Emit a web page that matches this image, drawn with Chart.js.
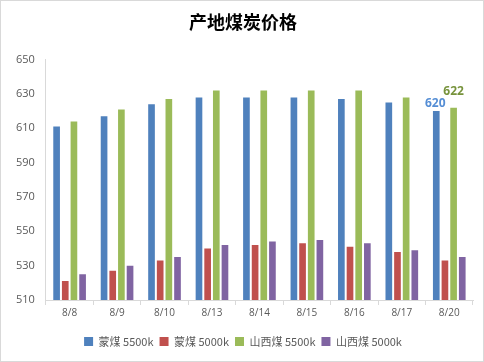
<!DOCTYPE html>
<html>
<head>
<meta charset="utf-8">
<script src="https://cdn.jsdelivr.net/npm/chart.js@4"></script>
<style>
    html, body { margin: 0; padding: 0; background: #fff; }
    #wrap { width: 482px; height: 360px; border: 1px solid #d9d9d9; }
</style>
</head>
<body>
<div id="wrap"><canvas id="priceChart" width="482" height="360"></canvas></div>
<script>
var dates = ['8/8', '8/9', '8/10', '8/13', '8/14', '8/15', '8/16', '8/17', '8/20'];
var seriesNames = ['蒙煤 5500k', '蒙煤 5000k', '山西煤 5500k', '山西煤 5000k'];
var mengHigh = [611, 617, 624, 628, 628, 628, 627, 625, 620];
var mengLow = [521, 527, 533, 540, 542, 543, 541, 538, 533];
var shanxiHigh = [614, 621, 627, 632, 632, 632, 632, 628, 622];
var shanxiLow = [525, 530, 535, 542, 544, 545, 543, 539, 535];
var yTicks = [510, 530, 550, 570, 590, 610, 630, 650];

var colors = ['#4f81bd', '#c0504d', '#9bbb59', '#8064a2'];
var labelColors = ['#558ed5', null, '#77933c', null];
var labelShiftX = [-1, 0, 0, 0];
var labelShiftY = [2, 0, 10, 0];

// only the last point of the 5500k series gets a value label
var lastLabelPlugin = {
    id: 'lastLabel',
    afterDatasetsDraw: function (chart) {
        var ctx = chart.ctx;
        ctx.save();
        ctx.font = 'bold 12px "Open Sans", sans-serif';
        ctx.textAlign = 'center';
        ctx.textBaseline = 'bottom';
        chart.data.datasets.forEach(function (ds, i) {
            if (!labelColors[i]) return;
            var meta = chart.getDatasetMeta(i);
            var last = meta.data.length - 1;
            var bar = meta.data[last];
            ctx.fillStyle = labelColors[i];
            ctx.fillText(ds.data[last], bar.x + labelShiftX[i], bar.y - labelShiftY[i]);
        });
        ctx.restore();
    }
};

var ctx = document.getElementById('priceChart');

new Chart(ctx, {
    type: 'bar',
    data: {
        labels: dates,
        datasets: [mengHigh, mengLow, shanxiHigh, shanxiLow].map(function (d, i) {
            return {
                label: seriesNames[i],
                data: d,
                backgroundColor: colors[i],
                borderWidth: 0,
                categoryPercentage: 0.73,
                barPercentage: 0.77
            };
        })
    },
    options: {
        responsive: false,
        animation: false,
        layout: { padding: { left: 12, right: 10, top: 0, bottom: 4 } },
        plugins: {
            title: {
                display: true,
                text: '产地煤炭价格',
                color: '#000',
                font: { family: '"Noto Sans CJK SC", sans-serif', size: 18, weight: 'bold' },
                padding: { top: 10, bottom: 27 }
            },
            legend: {
                position: 'bottom',
                labels: {
                    boxWidth: 9,
                    boxHeight: 9,
                    padding: 6,
                    color: '#595959',
                    font: { family: '"Noto Sans CJK SC", sans-serif', size: 11 }
                }
            },
            tooltip: { enabled: false }
        },
        scales: {
            x: {
                afterFit: function (axis) { axis.height += 9; },
                grid: {
                    display: true,
                    drawOnChartArea: false,
                    offset: true,
                    tickLength: 5,
                    color: '#d9d9d9'
                },
                border: { color: '#d9d9d9' },
                ticks: {
                    color: '#595959',
                    font: { family: '"Open Sans", sans-serif', size: 10 },
                    padding: 2
                }
            },
            y: {
                min: 510,
                max: 650,
                afterBuildTicks: function (axis) {
                    axis.ticks = yTicks.map(function (v) { return { value: v }; });
                },
                grid: { display: false },
                border: { color: '#d9d9d9' },
                ticks: {
                    color: '#595959',
                    font: { family: '"Open Sans", sans-serif', size: 11 },
                    padding: 3
                }
            }
        }
    },
    plugins: [lastLabelPlugin]
});
</script>
</body>
</html>
